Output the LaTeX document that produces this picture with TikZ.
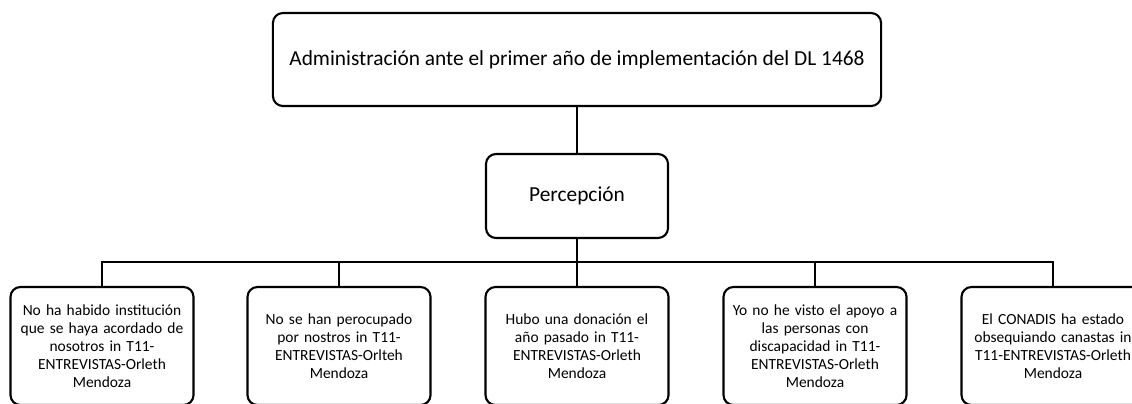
\documentclass[tikz,border=0pt]{standalone}
\usepackage{fontspec}
\setmainfont{Carlito}
\begin{document}
\begin{tikzpicture}[x=0.025cm,y=-0.025cm,
    caja/.style={draw,line width=1.5pt,rounded corners=0.25cm,align=center,inner sep=2pt},
    hoja/.style={caja,minimum width=4.575cm,minimum height=2.95cm,text width=4.4cm,font=\fontsize{11}{12.7}\selectfont},
    enlace/.style={line width=1.5pt}]
        % Frame
        \clip (0,0) rectangle (1132,403);

        % Top boxes
        \node[caja,minimum width=15.2cm,minimum height=2.325cm,font=\fontsize{15.2}{18}\selectfont] (admin) at (577,59.5) {Administración ante el primer año de implementación del DL 1468};
        \node[caja,minimum width=4.55cm,minimum height=2.1cm,font=\fontsize{15.2}{18}\selectfont] (percepcion) at (577,196) {Percepción};

        % Leaves
        \node[hoja] (cita1) at (102,346) {No ha habido institución\\que se haya acordado de\\nosotros in T11-\\ENTREVISTAS-Orleth\\Mendoza};
        \node[hoja] (cita2) at (339,346) {No se han perocupado\\por nostros in T11-\\ENTREVISTAS-Orlteh\\Mendoza};
        \node[hoja] (cita3) at (577,346) {Hubo una donación el\\año pasado in T11-\\ENTREVISTAS-Orleth\\Mendoza};
        \node[hoja] (cita4) at (815,346) {Yo no he visto el apoyo a\\las personas con\\discapacidad in T11-\\ENTREVISTAS-Orleth\\Mendoza};
        \node[hoja] (cita5) at (1053,346) {El CONADIS ha estado\\obsequiando canastas in\\T11-ENTREVISTAS-Orleth\\Mendoza};

        % Connectors
        \coordinate (bus) at (577,262);
        \draw[enlace] (admin) -- (percepcion);
        \draw[enlace] (percepcion) -- (bus);
        \foreach \i in {1,...,5} \draw[enlace] (bus) -| (cita\i.north);
      \end{tikzpicture}
\end{document}
